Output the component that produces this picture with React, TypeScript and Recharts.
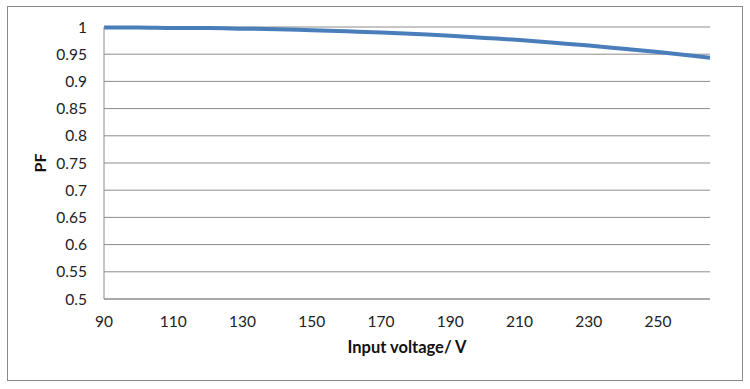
import { LineChart, Line, XAxis, YAxis, CartesianGrid, Label } from "recharts";

// input voltage (V) and power factor
const voltages = [90, 100, 110, 120, 130, 140, 150, 160, 170, 180, 190, 200, 210, 220, 230, 240, 250, 260, 265];
const pfValues = [0.999, 0.999, 0.998, 0.998, 0.997, 0.996, 0.994, 0.992, 0.99, 0.987, 0.984, 0.98, 0.976, 0.971, 0.966, 0.96, 0.954, 0.947, 0.9435];

const xTicks = [90, 110, 130, 150, 170, 190, 210, 230, 250];
const yTicks = [0.5, 0.55, 0.6, 0.65, 0.7, 0.75, 0.8, 0.85, 0.9, 0.95, 1];

const data = voltages.map((v, i) => ({ v, pf: pfValues[i] }));

const FONT = "Lato, 'Open Sans', sans-serif";
const GRID = "#8c8c8c";

export default function App() {
  return (
    <div style={{ position: "absolute", left: 0, top: 0, width: 750, height: 389, background: "#fff", fontFamily: FONT }}>
      {/* outer chart frame */}
      <div
        style={{
          position: "absolute",
          left: 7,
          top: 6,
          width: 734,
          height: 373,
          border: "1px solid #8a8a8a",
        }}
      />
      <div style={{ position: "absolute", left: 0, top: 0 }}>
        <LineChart width={750} height={389} data={data} margin={{ top: 27, right: 40, bottom: 40, left: 0 }}>
          <CartesianGrid vertical={false} stroke={GRID} />
          <XAxis
            dataKey="v"
            type="number"
            domain={[90, 265]}
            ticks={xTicks}
            height={50}
            axisLine={{ stroke: GRID }}
            tickLine={false}
            tickSize={0}
            tickMargin={17}
            tick={{ fill: "#222", fontSize: 15.5, fontFamily: FONT }}
          >
            <Label
              content={({ viewBox }: any) => (
                <text
                  x={viewBox.x + viewBox.width / 2}
                  y={viewBox.y + 54}
                  textAnchor="middle"
                  fontSize={16.5}
                  fontWeight="bold"
                  fontFamily={FONT}
                  fill="#111"
                >
                  Input voltage/ V
                </text>
              )}
            />
          </XAxis>
          <YAxis
            type="number"
            domain={[0.5, 1]}
            ticks={yTicks}
            width={104}
            axisLine={{ stroke: GRID }}
            tickLine={false}
            tickSize={0}
            tickMargin={17}
            tickFormatter={(t: number) => String(+t.toFixed(2))}
            tick={{ fill: "#222", fontSize: 15.5, fontFamily: FONT }}
          >
            <Label
              content={({ viewBox }: any) => {
                const x = viewBox.x + 42;
                const y = viewBox.y + viewBox.height / 2;
                return (
                  <text
                    x={x}
                    y={y}
                    transform={`rotate(-90 ${x} ${y})`}
                    textAnchor="middle"
                    dominantBaseline="middle"
                    fontSize={16}
                    fontWeight="bold"
                    fontFamily={FONT}
                    fill="#111"
                  >
                    PF
                  </text>
                );
              }}
            />
          </YAxis>
          <Line
            type="monotone"
            dataKey="pf"
            stroke="#4a7ebb"
            strokeWidth={4}
            dot={false}
            isAnimationActive={false}
          />
        </LineChart>
      </div>
    </div>
  );
}
